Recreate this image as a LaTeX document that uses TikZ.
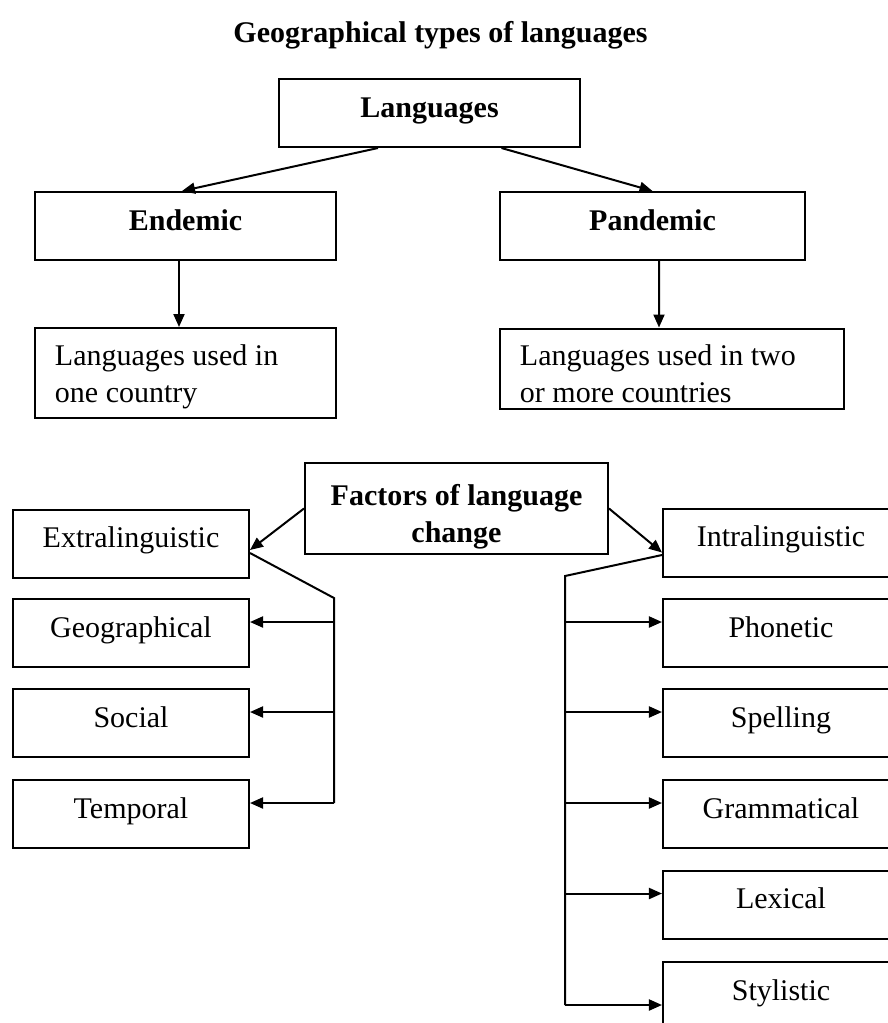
\documentclass[tikz,border=0pt]{standalone}
\usepackage{fontspec}
\setmainfont{Liberation Serif}
\usetikzlibrary{arrows.meta}

\begin{document}
\begin{tikzpicture}[x=0.4pt,y=-0.4pt,line width=0.8pt,
    box/.style={draw,inner xsep=0pt,inner ysep=0pt,
        text height=15.2pt,text depth=12pt,
        font=\fontsize{12pt}{14.8pt}\selectfont},
    bold/.style={font=\fontsize{12pt}{14.8pt}\selectfont\bfseries},
    small/.style={box,minimum width=94.4pt},
    note/.style={box,inner xsep=8pt,align=flush left,text height=14.8pt},
    arr/.style={-{Triangle[length=5.2pt,width=4.4pt]}}]
    \useasboundingbox (0,0) rectangle (888,1023);

    % Title
    \node[bold,anchor=base] (title) at (440.5,42) {Geographical types of languages};

    % Geographical types
    \node[box,bold,minimum width=120.4pt] (lang) at (429.5,113) {Languages};
    \node[box,bold,minimum width=120.4pt] (endemic) at (185.5,226) {Endemic};
    \node[box,bold,minimum width=122pt] (pandemic) at (652.5,226) {Pandemic};
    \node[note,text width=104.4pt,text depth=21.2pt] (onecountry) at (185.5,373)
        {Languages used in\\one country};
    \node[note,text width=121.6pt,text depth=17.2pt] (twocountries) at (672,368.5)
        {Languages used in two\\or more countries};

    \draw[arr] ([xshift=-20.6pt]lang.south) -- ([xshift=-1.4pt]endemic.north);
    \draw[arr] ([xshift=28.8pt]lang.south) -- (pandemic.north);
    \draw[arr] ([xshift=-2.6pt]endemic.south) -- ([xshift=-2.6pt]onecountry.north);
    \draw[arr] ([xshift=2.6pt]pandemic.south) -- ([xshift=-5.2pt]twocountries.north);

    % Factors of language change
    \node[box,bold,align=flush center,text width=121.2pt,text height=16.8pt,text depth=19.6pt]
        (factors) at (456.5,508.5) {Factors of language\\change};
    \node[small] (extra) at (131,543.5) {Extralinguistic};
    \node[small] (intra) at (781,542.5) {Intralinguistic};

    \foreach \name/\txt/\y in {geo/Geographical/633,social/Social/723,temporal/Temporal/814}
        \node[small] (\name) at (131,\y) {\txt};
    \foreach \name/\txt/\y in {phonetic/Phonetic/633,spelling/Spelling/723,
            grammatical/Grammatical/814,lexical/Lexical/904.5,stylistic/Stylistic/996}
        \node[small] (\name) at (781,\y) {\txt};

    \draw[arr] (factors.west) -- ([yshift=-2.6pt]extra.east);
    \draw[arr] (factors.east) -- ([yshift=-4pt]intra.west);

    % left bracket
    \coordinate (ltop) at (334,598);
    \foreach \name in {geo,social,temporal} {
        \coordinate (\name-in) at ([yshift=4.4pt]\name.east);
        \draw[arr] (ltop |- \name-in) -- (\name-in);
    }
    \draw ([yshift=-3.8pt]extra.east) -- (ltop) -- (ltop |- temporal-in);

    % right bracket
    \coordinate (rtop) at (565,576);
    \foreach \name/\dy in {phonetic/4.4pt,spelling/4.4pt,grammatical/4.4pt,
            lexical/4.4pt,stylistic/-3.6pt} {
        \coordinate (\name-in) at ([yshift=\dy]\name.west);
        \draw[arr] (rtop |- \name-in) -- (\name-in);
    }
    \draw ([yshift=-5pt]intra.west) -- (rtop) -- (rtop |- stylistic-in);
\end{tikzpicture}
\end{document}
